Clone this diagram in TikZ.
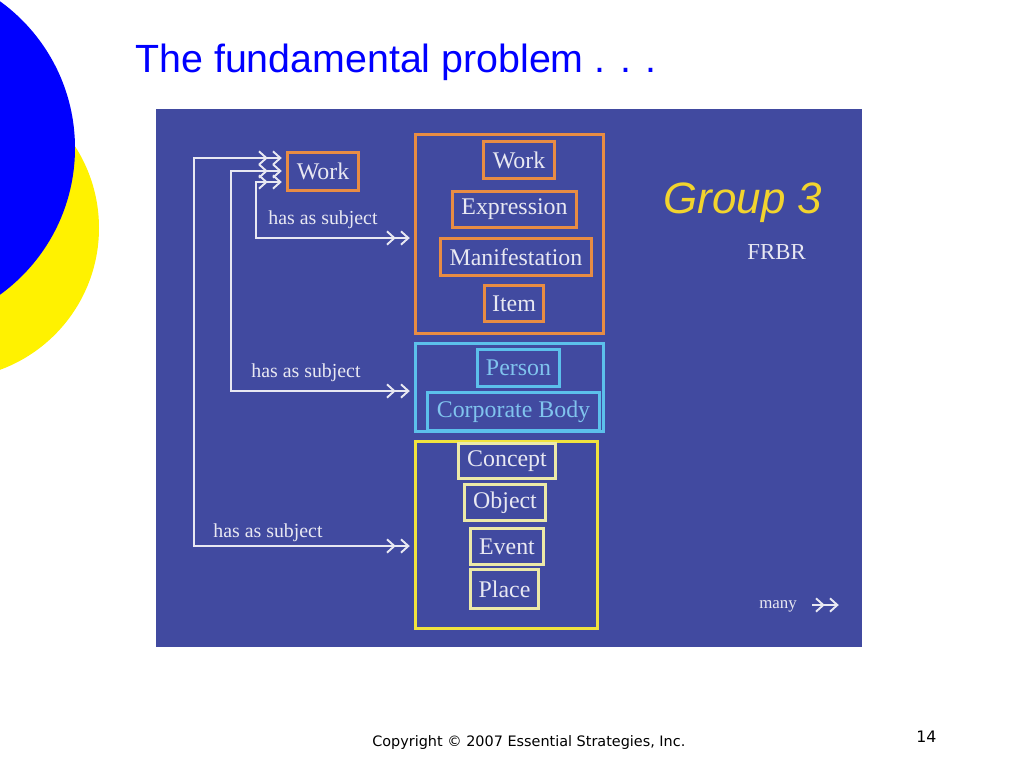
\documentclass[tikz,border=0pt]{standalone}
\usepackage{fontspec}
\setmainfont{Liberation Serif}
\newfontfamily\slidesans{Liberation Sans}
\newfontfamily\footsans{DejaVu Sans}
\usetikzlibrary{arrows.meta}
\newlength{\pxu}
\setlength{\pxu}{0.02cm}
\definecolor{panelblue}{RGB}{65,74,160}
\definecolor{entorange}{RGB}{232,140,68}
\definecolor{entcyan}{RGB}{92,192,235}
\definecolor{entyellow}{RGB}{240,226,62}
\definecolor{entpale}{RGB}{236,233,168}
\definecolor{entwhite}{RGB}{232,232,242}
\definecolor{txtcyan}{RGB}{128,196,238}
\definecolor{grpyellow}{RGB}{242,212,46}
\definecolor{slideblue}{RGB}{0,0,255}
\tikzset{
  ent/.style={draw=#1, line width=1.7pt, inner sep=0pt, text=entwhite,
    font=\fontsize{13.6}{16}\selectfont},
  sz/.style 2 args={minimum width=#1\pxu, minimum height=#2\pxu},
  subj/.style={draw=entwhite, line width=1.1pt,
    >={Straight Barb[length=4.2pt, width=7.6pt, sep=2.4pt]}},
  lbl/.style={text=entwhite, inner sep=0pt, anchor=base west,
    font=\fontsize{11.3}{13}\selectfont}
}

\begin{document}
\begin{tikzpicture}[x=\pxu, y=-\pxu]
\useasboundingbox (0,0) rectangle (1024,768);
% slide decoration
\begin{scope}
\clip (0,0) rectangle (1024,768);
\fill [yellow] (-52,228) circle [radius=151];
\fill [slideblue] (-106,148) circle [radius=181];
\end{scope}
\node [anchor=base west, inner sep=0pt, text=slideblue, font=\slidesans\fontsize{22.4}{26}\selectfont]
  (title) at (135,72) {The fundamental problem . . .};
\fill [panelblue] (156,109) rectangle (862,647);

% group 1
\node [ent=entorange, sz={188}{199}] (g1) at (509.5,234) {};
\node [ent=entorange, sz={71}{37}] (g1work) at (519,160) {Work};
\node [ent=entorange, sz={124}{36}] (expr) at (514.5,209.5) {Expression};
\node [ent=entorange, sz={151}{37}] (manif) at (516,257) {Manifestation};
\node [ent=entorange, sz={59}{36}] (item) at (514,303.5) {Item};
% group 2
\node [ent=entcyan, sz={188}{88}] (g2) at (509.5,387.5) {};
\node [ent=entcyan, sz={82}{37}, text=txtcyan] (person) at (518.5,368) {Person};
\node [ent=entcyan, sz={172}{38}, text=txtcyan] (corp) at (513.5,411.5) {Corporate Body};
% group 3
\node [ent=entyellow, sz={182}{187}] (g3) at (506.5,535) {};
\node [ent=entpale, sz={97}{35}] (concept) at (507,461) {Concept};
\node [ent=entpale, sz={81}{36}] (object) at (505,502.5) {Object};
\node [ent=entpale, sz={73}{36}] (event) at (507,546.5) {Event};
\node [ent=entpale, sz={68}{39}] (place) at (504.5,589) {Place};

% work has as subject ...
\node [ent=entorange, sz={71}{38}] (lwork) at (323,171.5) {Work};
\draw [subj, <<->>] (lwork.west |- 0,182) -| (256,238) -- (g1.west |- 0,238);
\draw [subj, <<->>] (lwork.west |- 0,171) -| (231,391) -- (g2.west |- 0,391);
\draw [subj, <<->>] (lwork.west |- 0,158) -| (194,546) -- (g3.west |- 0,546);
\node [lbl] (hs1) at (268,224) {has as subject};
\node [lbl] (hs2) at (251,377) {has as subject};
\node [lbl] (hs3) at (213,537) {has as subject};

\node [anchor=base west, inner sep=0pt, text=grpyellow, font=\slidesans\itshape\fontsize{25}{30}\selectfont]
  (grp) at (663,213) {Group 3};
\node [anchor=base west, inner sep=0pt, text=entwhite, font=\fontsize{13}{16}\selectfont]
  (frbr) at (747,259) {FRBR};
\node [lbl, font=\fontsize{9.6}{11}\selectfont] (many) at (759,608) {many};
\coordinate (m0) at (812,605);
\coordinate (m1) at (843,605);
\draw [subj, ->>] (m0) -- (m1);

% footer
\node [anchor=base west, inner sep=0pt, font=\footsans\fontsize{8.2}{10}\selectfont]
  (copy) at (372,746) {Copyright © 2007 Essential Strategies, Inc.};
\node [anchor=base west, inner sep=0pt, font=\footsans\fontsize{9}{11}\selectfont]
  (pgno) at (916,742) {14};
\end{tikzpicture}
\end{document}
